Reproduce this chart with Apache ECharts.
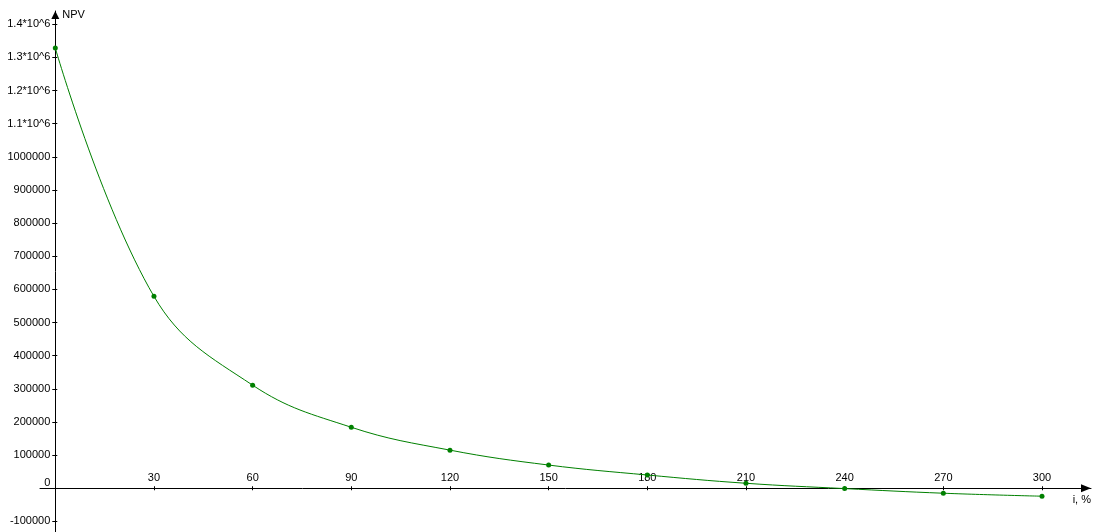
<!DOCTYPE html>
<html>
<head>
<meta charset="utf-8">
<script src="https://cdn.jsdelivr.net/npm/echarts@6/dist/echarts.min.js"></script>
<style>
html,body{margin:0;padding:0;background:#ffffff;}
#chart{width:1101px;height:532px;}
</style>
</head>
<body>
<div id="chart"></div>
<script>
// Data
const rates = [0, 30, 60, 90, 120, 150, 180, 210, 240, 270, 300];
const npv = [1328000, 579000, 311000, 184000, 115000, 70000, 40000, 15000, -1000, -15000, -24000];

const xTickValues = [30, 60, 90, 120, 150, 180, 210, 240, 270, 300];
const xTickLabels = ['30', '60', '90', '120', '150', '180', '210', '240', '270', '300'];
const yTickValues = [-100000, 0, 100000, 200000, 300000, 400000, 500000, 600000, 700000,
  800000, 900000, 1000000, 1100000, 1200000, 1300000, 1400000];
const yTickLabels = ['-100000', '0', '100000', '200000', '300000', '400000', '500000', '600000', '700000',
  '800000', '900000', '1000000', '1.1*10^6', '1.2*10^6', '1.3*10^6', '1.4*10^6'];

const xRange = [-4.65, 314.9];
const yRange = [-132000, 1440000];

const W = 1101, H = 532;
const FONT = '"Liberation Sans", Arial, sans-serif';
const gridBox = { left: 40, right: 10, top: 11, bottom: 0, outerBoundsMode: 'none', containLabel: false };
const gridW = W - gridBox.left - gridBox.right;
const gridH = H - gridBox.top - gridBox.bottom;
// shift the axes onto the zero lines of the other axis (through the scales' ranges)
const yAxisShift = -((0 - xRange[0]) / (xRange[1] - xRange[0])) * gridW;
const xAxisShift = -((0 - yRange[0]) / (yRange[1] - yRange[0])) * gridH;

const chart = echarts.init(document.getElementById('chart'), null, { renderer: 'canvas' });

const seriesData = rates.map((r, i) => [r, npv[i]]);

chart.setOption({
  animation: false,
  backgroundColor: '#ffffff',
  grid: [Object.assign({}, gridBox), Object.assign({}, gridBox)],
  xAxis: [{
    type: 'value', gridIndex: 0, min: xRange[0], max: xRange[1],
    position: 'bottom', offset: xAxisShift,
    name: 'i, %', nameLocation: 'end', nameGap: 0,
    nameTextStyle: { fontFamily: FONT, fontSize: 11, color: '#000', align: 'right', verticalAlign: 'top', padding: [6, 0, 0, 0] },
    axisLine: { show: true, onZero: false, symbol: ['none', 'triangle'], symbolSize: [8, 10], symbolOffset: [0, -5],
      lineStyle: { color: '#000', width: 1 } },
    axisTick: { show: true, inside: false, length: 2, customValues: xTickValues, lineStyle: { color: '#000' } },
    axisLabel: { show: true, inside: true, margin: 5, customValues: xTickValues,
      fontFamily: FONT, fontSize: 11, color: '#000',
      formatter: (v) => { const i = xTickValues.indexOf(v); return i >= 0 ? xTickLabels[i] : ''; } },
    splitLine: { show: false }
  }, {
    type: 'value', gridIndex: 1, min: xRange[0], max: xRange[1],
    position: 'bottom', offset: xAxisShift,
    axisLine: { show: false, onZero: false },
    axisTick: { show: true, inside: true, length: 2, customValues: xTickValues, lineStyle: { color: '#000' } },
    axisLabel: { show: false },
    splitLine: { show: false }
  }],
  yAxis: [{
    type: 'value', gridIndex: 0, min: yRange[0], max: yRange[1],
    position: 'left', offset: yAxisShift,
    name: 'NPV', nameLocation: 'end', nameGap: -4,
    nameTextStyle: { fontFamily: FONT, fontSize: 11, color: '#000', align: 'left', verticalAlign: 'middle', padding: [0, 0, 0, 7] },
    axisLine: { show: true, onZero: false, symbol: ['none', 'triangle'], symbolSize: [8, 8], symbolOffset: [0, -4],
      lineStyle: { color: '#000', width: 1 } },
    axisTick: { show: true, inside: false, length: 3, customValues: yTickValues, lineStyle: { color: '#000' } },
    axisLabel: { show: true, margin: 5, customValues: yTickValues,
      fontFamily: FONT, fontSize: 11, color: '#000',
      formatter: (v) => {
        const i = yTickValues.indexOf(v);
        if (i < 0) return '';
        return v === 0 ? '{z|' + yTickLabels[i] + '}' : yTickLabels[i];
      },
      rich: { z: { fontFamily: FONT, fontSize: 11, color: '#000', padding: [0, 0, 10, 0] } } },
    splitLine: { show: false }
  }, {
    type: 'value', gridIndex: 1, min: yRange[0], max: yRange[1],
    position: 'left', offset: yAxisShift,
    axisLine: { show: false, onZero: false },
    axisTick: { show: true, inside: true, length: 2, customValues: yTickValues, lineStyle: { color: '#000' } },
    axisLabel: { show: false },
    splitLine: { show: false }
  }],
  series: [{
    type: 'line',
    xAxisIndex: 0, yAxisIndex: 0,
    data: seriesData,
    smooth: 0.4,
    symbol: 'circle',
    symbolSize: 5,
    showSymbol: true,
    lineStyle: { color: '#008000', width: 1 },
    itemStyle: { color: '#008000' },
    emphasis: { disabled: true },
    clip: false,
    z: 3
  }]
});
</script>
</body>
</html>
